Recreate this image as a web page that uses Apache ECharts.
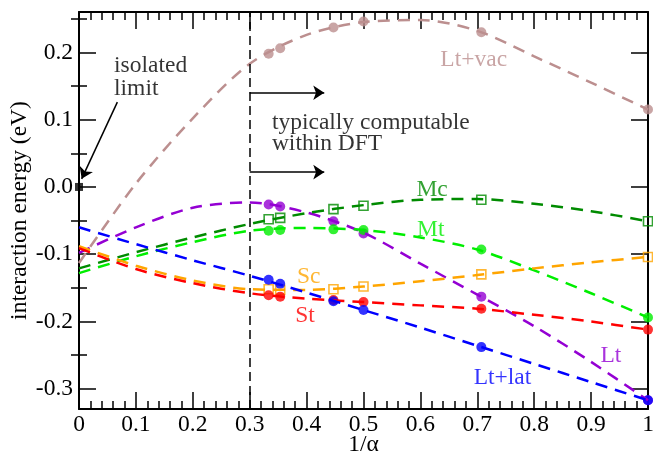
<!DOCTYPE html>
<html>
<head>
<meta charset="utf-8">
<style>
  html, body { margin: 0; padding: 0; background: #fff; }
  #chart { width: 653px; height: 457px; }
</style>
<script src="https://cdn.jsdelivr.net/npm/echarts@6/dist/echarts.min.js"></script>
</head>
<body>
<div id="chart"></div>
<script>
// 1/alpha of the computed points (alpha = 3, 2*sqrt2, sqrt5, 2, sqrt2, 1)
const invAlpha = [0.3333, 0.3536, 0.4472, 0.5, 0.7071, 1];

// interaction energies (eV) at those points
const ltVac = [0.198, 0.206, 0.237, 0.246, 0.230, 0.115];
const lt = [-0.026, -0.029, -0.051, -0.069, -0.163, -0.317];
const mc = [-0.048, -0.046, -0.033, -0.028, -0.019, -0.051];
const mt = [-0.065, -0.064, -0.063, -0.064, -0.093, -0.194];
const sc = [-0.152, -0.153, -0.152, -0.148, -0.130, -0.104];
const st = [-0.161, -0.163, -0.168, -0.171, -0.181, -0.212];
const ltLat = [-0.138, -0.144, -0.170, -0.183, -0.238, -0.317];

const fitX = [0, 0.1, 0.2, 0.3, 0.4, 0.5, 0.6, 0.7, 0.8, 0.9, 1];
const ltVacFit = [-0.113, 0.005, 0.102, 0.183, 0.226, 0.245, 0.248, 0.232, 0.194, 0.155, 0.115];
const ltFit = [-0.098, -0.060, -0.031, -0.023, -0.038, -0.068, -0.114, -0.160, -0.207, -0.260, -0.317];
const mcFit = [-0.121, -0.097, -0.075, -0.055, -0.039, -0.027, -0.019, -0.018, -0.025, -0.036, -0.051];
const mtFit = [-0.128, -0.103, -0.082, -0.065, -0.061, -0.064, -0.075, -0.093, -0.124, -0.158, -0.194];
const scFit = [-0.088, -0.117, -0.139, -0.152, -0.153, -0.148, -0.140, -0.131, -0.121, -0.112, -0.104];
const stFit = [-0.091, -0.122, -0.143, -0.158, -0.166, -0.171, -0.176, -0.181, -0.190, -0.200, -0.212];
const ltLatFit = [-0.060, -0.085, -0.109, -0.132, -0.157, -0.183, -0.209, -0.236, -0.263, -0.290, -0.317];

// isolated limit and DFT boundary
const isolated = [[0, 0]];
const dftLimit = 0.3;

// tick labels
const xTickLabels = ['0', '0.1', '0.2', '0.3', '0.4', '0.5', '0.6', '0.7', '0.8', '0.9', '1'];
const yTickValues = [-0.3, -0.2, -0.1, 0, 0.1, 0.2];
const yTickLabels = ['-0.3', '-0.2', '-0.1', '0.0', '0.1', '0.2'];
const yMinorValues = [-0.25, -0.15, -0.05, 0.05, 0.15, 0.25];

const FONT = "'Liberation Serif', 'Times New Roman', serif";
const FS = 23.5;
const zip = (xs, ys) => xs.map((x, i) => [x, ys[i]]);

function fitLine(ys, color) {
  return {
    type: 'line', data: zip(fitX, ys), smooth: 0.3, symbol: 'none', silent: true,
    lineStyle: { color: color, width: 2.5, type: [12, 8] }
  };
}
function points(ys, color, hollow) {
  return {
    type: 'scatter', data: zip(invAlpha, ys), clip: false, silent: true,
    symbol: hollow ? 'rect' : 'circle', symbolSize: hollow ? 9 : 10,
    itemStyle: hollow
      ? { color: 'rgba(0,0,0,0)', borderColor: color, borderWidth: 1.6 }
      : { color: color }
  };
}

// text annotations (left edge, vertical centre, in data units)
const notes = [
  { text: 'isolated', at: [0.0616, 0.180], color: '#000' },
  { text: 'limit', at: [0.0616, 0.146], color: '#000' },
  { text: 'typically computable', at: [0.339, 0.096], color: '#000' },
  { text: 'within DFT', at: [0.339, 0.064], color: '#000' },
  { text: 'Lt+vac', at: [0.635, 0.189], color: '#bc8f8f' },
  { text: 'Mc', at: [0.593, -0.005], color: '#008b00' },
  { text: 'Mt', at: [0.594, -0.063], color: '#00ee00' },
  { text: 'Sc', at: [0.383, -0.133], color: '#ffa500' },
  { text: 'St', at: [0.380, -0.192], color: '#ff0000' },
  { text: 'Lt', at: [0.9165, -0.251], color: '#9400d3' },
  { text: 'Lt+lat', at: [0.6936, -0.284], color: '#0000ff' }
];

const arrows = [
  [[dftLimit, 0.140], [0.431, 0.140]],
  [[dftLimit, 0.022], [0.431, 0.022]],
  [[0.0674, 0.126], [0.0047, 0.012]]
];

const axisLine = { show: true, onZero: false, lineStyle: { color: '#000', width: 2 } };
const tickStyle = { color: '#000', width: 1.5 };
const labelFont = { color: '#000', fontFamily: FONT, fontSize: FS };

function xAxisCfg(pos) {
  return {
    type: 'value', min: 0, max: 1, interval: 0.1, position: pos,
    axisLine: axisLine,
    axisTick: { show: true, inside: true, length: 17, lineStyle: tickStyle },
    minorTick: { show: true, splitNumber: 5, length: 8, lineStyle: tickStyle },
    splitLine: { show: false }, minorSplitLine: { show: false },
    axisLabel: pos === 'bottom'
      ? Object.assign({ margin: 4, formatter: v => xTickLabels[Math.round(v * 10)] }, labelFont)
      : { show: false }
  };
}
function yAxisCfg(pos, minor) {
  const vals = minor ? yMinorValues : yTickValues;
  return {
    type: 'value', min: -0.33, max: 0.26, position: pos,
    axisLine: minor ? { show: false } : axisLine,
    axisTick: { show: true, inside: true, length: minor ? 8 : 17, lineStyle: tickStyle, customValues: vals },
    splitLine: { show: false },
    axisLabel: (pos === 'left' && !minor)
      ? Object.assign({
          margin: 6, customValues: yTickValues,
          formatter: v => yTickLabels[yTickValues.findIndex(t => Math.abs(t - v) < 1e-9)]
        }, labelFont)
      : { show: false }
  };
}

const chart = echarts.init(document.getElementById('chart'));

const xBottom = xAxisCfg('bottom');
xBottom.name = '1/α';
xBottom.nameLocation = 'middle';
xBottom.nameGap = 24;
xBottom.nameMoveOverlap = false;
xBottom.nameTextStyle = labelFont;

const yLeft = yAxisCfg('left', false);
yLeft.name = 'interaction energy (eV)';
yLeft.nameLocation = 'middle';
yLeft.nameGap = 47;
yLeft.nameMoveOverlap = false;
yLeft.nameTextStyle = labelFont;

const vacLine = fitLine(ltVacFit, '#bc8f8f');
vacLine.markLine = {
  silent: true, symbol: ['none', 'none'], label: { show: false },
  lineStyle: { color: '#000', width: 1.5, type: [9, 5] },
  data: [{ xAxis: dftLimit }]
};

chart.setOption({
  animation: false,
  backgroundColor: '#fff',
  grid: { left: 79, right: 5, top: 12, bottom: 48, containLabel: false, outerBoundsMode: 'none' },
  xAxis: [xBottom, xAxisCfg('top')],
  yAxis: [yLeft, yAxisCfg('left', true), yAxisCfg('right', false), yAxisCfg('right', true)],
  series: [
    vacLine,
    fitLine(ltFit, '#9400d3'),
    fitLine(mcFit, '#008b00'),
    fitLine(mtFit, '#00ee00'),
    fitLine(scFit, '#ffa500'),
    fitLine(stFit, '#ff0000'),
    fitLine(ltLatFit, '#0000ff'),
    points(ltVac, '#bc8f8f', false),
    points(lt, '#9400d3', false),
    points(mc, '#008b00', true),
    points(mt, '#00ee00', false),
    points(sc, '#ffa500', true),
    points(st, '#ff0000', false),
    points(ltLat, '#0000ff', false),
    {
      type: 'scatter', data: isolated, clip: false, silent: true,
      symbol: 'rect', symbolSize: 8, itemStyle: { color: '#000' }, z: 5
    },
    {
      type: 'lines', coordinateSystem: 'cartesian2d', silent: true,
      symbol: ['none', 'arrow'], symbolSize: 11,
      lineStyle: { color: '#000', width: 1.5, opacity: 1 },
      data: arrows.map(c => ({ coords: c })), z: 5
    },
    {
      type: 'scatter', silent: true, symbolSize: 0, clip: false,
      data: notes.map(n => ({
        value: n.at,
        label: { show: true, position: 'right', distance: 0, formatter: n.text,
                 color: n.color, fontFamily: FONT, fontSize: FS }
      }))
    }
  ]
});
</script>
</body>
</html>
